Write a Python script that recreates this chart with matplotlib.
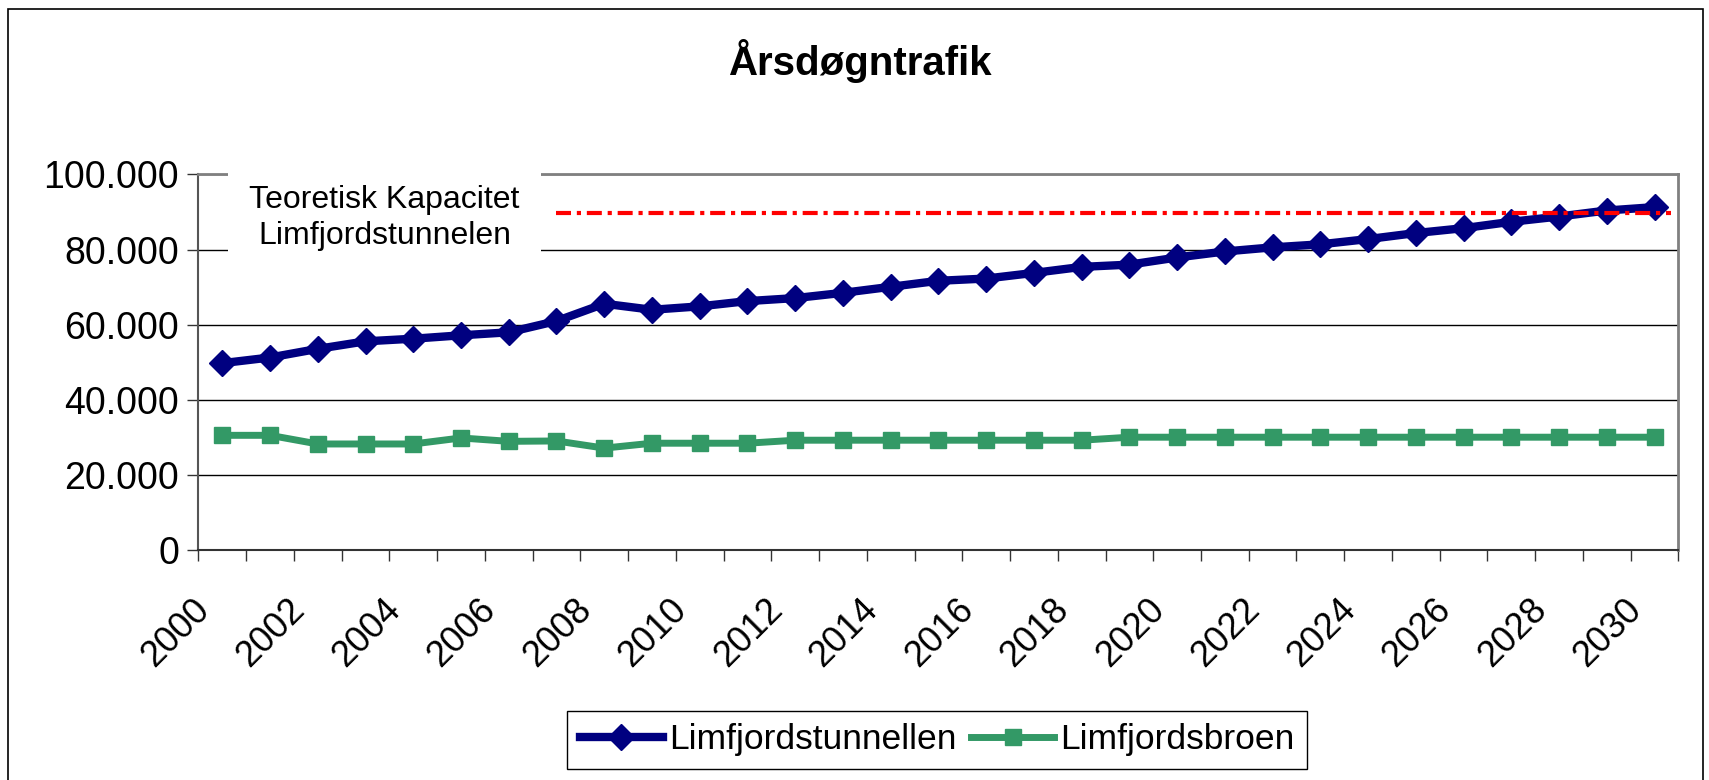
import matplotlib.pyplot as plt
import matplotlib.transforms as mtransforms
from matplotlib.patches import Rectangle
from matplotlib.ticker import FuncFormatter

plt.rcParams['font.family'] = ['Liberation Sans', 'DejaVu Sans']

# Data
years = list(range(2000, 2031))
tunnel = [49800, 51300, 53600, 55600, 56300, 57200, 58000, 61000, 65600, 64000,
          64900, 66300, 67100, 68500, 70100, 71700, 72300, 73800, 75400, 76000,
          77900, 79500, 80600, 81400, 82800, 84400, 85700, 87400, 88800, 90400,
          91300]
bridge = [30600, 30600, 28300, 28300, 28300, 29900, 29000, 29100, 27200, 28500,
          28500, 28500, 29300, 29300, 29300, 29300, 29300, 29300, 29300, 30100,
          30100, 30100, 30100, 30100, 30100, 30100, 30100, 30100, 30100, 30100,
          30100]
capacity = 89700
capacity_label = "Teoretisk Kapacitet\nLimfjordstunnelen"
y_ticks = [0, 20000, 40000, 60000, 80000, 100000]

x = list(range(len(years)))

fig = plt.figure(figsize=(17.09, 7.80), dpi=100)
ax = fig.add_axes([0.1161, 0.2944, 0.866, 0.482])

# Series
ax.plot(x, tunnel, color='#000080', lw=6, marker='D', ms=13,
        label='Limfjordstunnellen', zorder=4)
ax.plot(x, bridge, color='#339966', lw=5, marker='s', ms=12,
        label='Limfjordsbroen', zorder=4)
ax.axhline(capacity, xmin=0.2414, xmax=0.9953, color='red', lw=3,
           dashes=(3.6, 1.4, 1, 1.4), zorder=5)

# Axes
ax.set_xlim(-0.5, len(years) - 0.5)
ax.set_ylim(0, 100000)
ax.set_yticks(y_ticks)
ax.yaxis.set_major_formatter(FuncFormatter(lambda v, p: f"{v:,.0f}".replace(",", ".")))
ax.set_xticks(x[::2])
ax.set_xticklabels([str(y) for y in years[::2]])
ax.set_xticks([i - 0.5 for i in range(len(years) + 1)], minor=True)

ax.tick_params(axis='y', length=8, width=1, pad=6, labelsize=27, color='#333333')
ax.tick_params(axis='x', which='major', length=0, pad=39, labelsize=26)
ax.tick_params(axis='x', which='minor', length=8, width=1, color='#333333')

shift = mtransforms.ScaledTranslation(-0.18, 0, fig.dpi_scale_trans)
for lbl in ax.get_xticklabels():
    lbl.set_rotation(45)
    lbl.set_ha('right')
    lbl.set_va('center')
    lbl.set_rotation_mode('anchor')
    lbl.set_transform(lbl.get_transform() + shift)

ax.yaxis.grid(True, color='black', lw=1)
ax.set_axisbelow(True)

ax.spines['left'].set_color('#555555')
ax.spines['bottom'].set_color('#333333')
ax.spines['left'].set_linewidth(1.5)
ax.spines['bottom'].set_linewidth(1.5)
for side in ('top', 'right'):
    ax.spines[side].set_color('#808080')
    ax.spines[side].set_linewidth(2)

# Capacity label with white box covering gridlines
ax.add_patch(Rectangle((0.0202, 0.777), 0.2111, 0.248, transform=ax.transAxes,
                       facecolor='white', edgecolor='none', clip_on=False, zorder=3))
ax.text(0.1258, 0.884, capacity_label, transform=ax.transAxes, ha='center',
        va='center', fontsize=23, linespacing=1.3, zorder=6)

# Title
fig.text(0.503, 0.904, 'Årsdøgntrafik', ha='center', va='baseline',
         fontsize=29, fontweight='bold')

# Legend
leg = fig.legend(loc='center', bbox_to_anchor=(0.5483, 0.0513), ncol=2,
                 fontsize=25.5, numpoints=1, handlelength=2.35, handletextpad=0.17,
                 columnspacing=0.42, borderpad=0.35, fancybox=False,
                 edgecolor='black', framealpha=1)
leg.get_frame().set_linewidth(1)

# Outer chart border
fig.add_artist(Rectangle((0.0047, -0.02), 0.9918, 1.009, transform=fig.transFigure,
                         fill=False, edgecolor='black', lw=1.2))

fig.savefig('out.png', dpi=100)
